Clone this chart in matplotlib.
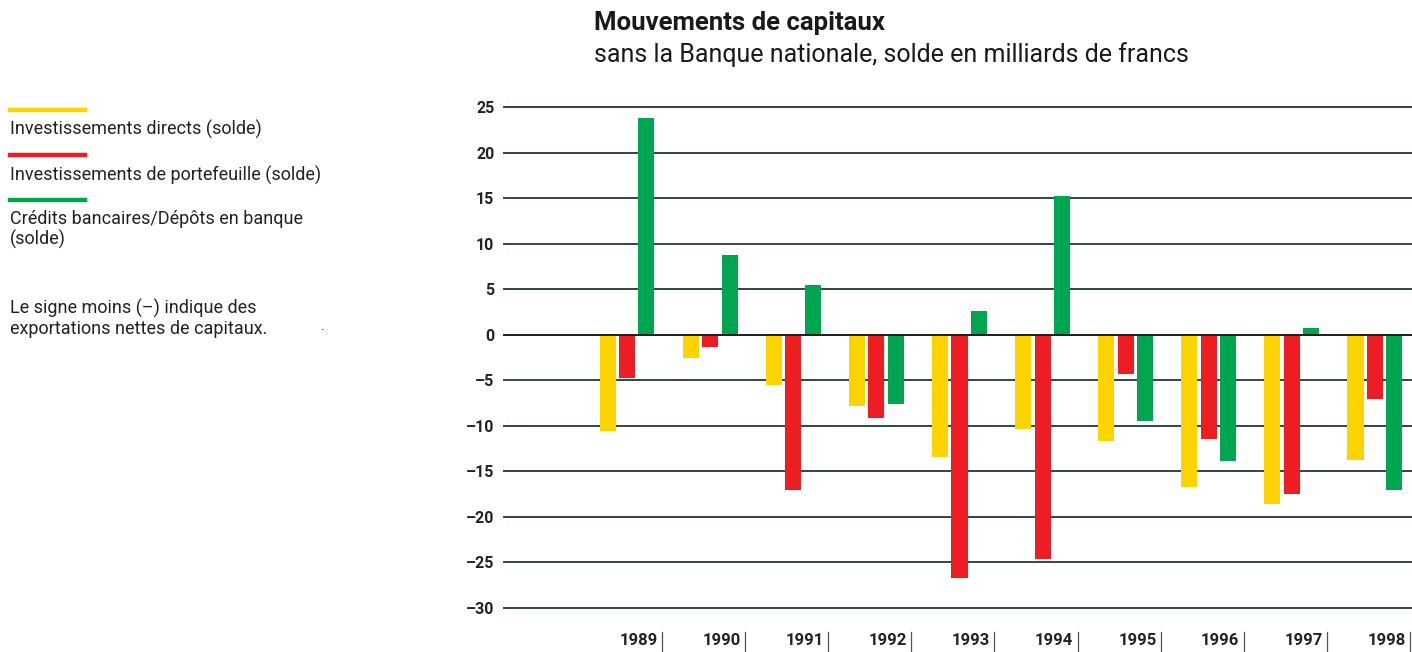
import matplotlib
matplotlib.use("Agg")
import matplotlib.pyplot as plt
import matplotlib.transforms as mtransforms
import numpy as np

plt.rcParams['font.family'] = ['Roboto', 'DejaVu Sans']

# Daten (Mrd. CHF, Saldo)
years = ["1989", "1990", "1991", "1992", "1993", "1994", "1995", "1996", "1997", "1998"]
direct = [-10.6, -2.5, -5.5, -7.8, -13.4, -10.4, -11.7, -16.7, -18.6, -13.8]
portfolio = [-4.7, -1.3, -17.1, -9.1, -26.7, -24.6, -4.3, -11.4, -17.5, -7.1]
bank = [23.8, 8.7, 5.5, -7.6, 2.6, 15.2, -9.5, -13.9, 0.7, -17.0]

series_labels = ["Investissements directs (solde)",
                 "Investissements de portefeuille (solde)",
                 "Crédits bancaires/Dépôts en banque\n(solde)"]
colors = ["#FDD300", "#EE1D24", "#00A54F"]
yticks = list(range(-30, 30, 5))

W, H = 1412, 652
fig = plt.figure(figsize=(W / 100, H / 100), dpi=100)
ax = fig.add_axes([504 / W, 1 - 608 / H, (W - 504) / W, 501 / H])

x = np.arange(len(years))
offsets = [-0.155, 0.08, 0.313]
width = 0.193
for vals, off, col in zip([direct, portfolio, bank], offsets, colors):
    ax.bar(x + off, vals, width=width, color=col, zorder=3, linewidth=0)

ax.set_xlim(-1.401, 9.525)
ax.set_ylim(-30, 25)

# Gitterlinien
for yv in yticks:
    ax.axhline(yv, color="#1d1d1d" if yv == 0 else "#33434b", lw=1.4,
               zorder=2 if yv else 4, clip_on=False)

for s in ax.spines.values():
    s.set_visible(False)
ax.set_xticks([])
ax.set_yticks(yticks)
ax.set_yticklabels([str(v).replace("-", "–") for v in yticks],
                   fontsize=11.5, fontweight="bold", color="#222222")
ax.tick_params(axis="y", length=0, pad=7)

# Jahreslabels mit Trennstrichen
trans = mtransforms.blended_transform_factory(ax.transData, ax.transAxes)
for i, yr in enumerate(years):
    sep = i + 0.5
    ax.text(sep - 0.05, -0.064, yr, transform=trans, ha="right", va="center",
            fontsize=12, fontweight="bold", color="#222222")
    ax.plot([sep, sep], [-0.048, -0.09], transform=trans, color="#555555",
            lw=0.9, clip_on=False)

# Titel
fig.text(594 / W, 1 - 23 / H, "Mouvements de capitaux", fontsize=18.5,
         fontweight="bold", color="#1a1a1a", va="center", ha="left")
fig.text(594 / W, 1 - 55 / H, "sans la Banque nationale, solde en milliards de francs",
         fontsize=18, color="#1a1a1a", va="center", ha="left")

# Legende links
leg_y = [110, 155, 200]
txt_y = [130, 176, 220]
for ly, ty, lab, col in zip(leg_y, txt_y, series_labels, colors):
    fig.add_artist(plt.Line2D([10 / W, 85 / W], [1 - ly / H, 1 - ly / H],
                              color=col, lw=3.2, transform=fig.transFigure))
    fig.text(10 / W, 1 - (ty - 10) / H, lab, fontsize=13, color="#222222",
             va="top", ha="left", linespacing=1.1)

fig.text(10 / W, 1 - 299 / H, "Le signe moins (–) indique des\nexportations nettes de capitaux.",
         fontsize=13, color="#222222", va="top", ha="left", linespacing=1.1)
fig.text(321 / W, 1 - 326 / H, ".", fontsize=10, color="#222222", va="center")

fig.savefig("out.png", dpi=100)
